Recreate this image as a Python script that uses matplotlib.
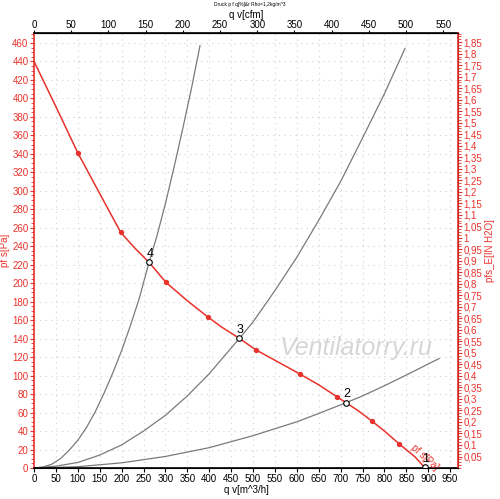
import matplotlib
matplotlib.use('Agg')
import matplotlib.pyplot as plt
import matplotlib.ticker as mticker

plt.rcParams['font.family'] = ['Liberation Sans', 'DejaVu Sans']

# fan curve pf s [Pa] over qv [m^3/h]
fan_q = [0, 50, 100, 150, 198, 230, 262.6, 301, 350, 398, 430, 469, 506,
         560, 607, 650, 692, 712.5, 740, 771, 800, 834, 870, 893]
fan_p = [440, 391, 341, 297, 255, 238, 222.6, 201, 181, 163, 152, 140.3, 128,
         114, 101.7, 90, 77, 70.7, 62, 51, 40, 26, 12, 0]

# measured points on the fan curve (small red dots)
dot_q = [100, 198, 301, 398, 506, 607, 692, 771, 834]
dot_p = [341, 255, 201, 163, 128, 101.7, 77, 51, 26]

# system curves (gray)
sys1_q = [0, 20, 40, 60, 80, 100, 120, 140, 160, 180, 200, 220, 240,
          262.6, 280, 300, 320, 340, 360, 379]
sys1_p = [0, 1, 4, 10, 19, 30, 44, 61, 81, 103, 127, 154, 183,
          222.6, 250, 286, 326, 368, 412, 457]
sys2_q = [0, 50, 100, 150, 200, 250, 300, 350, 400, 469, 500, 550, 600,
          650, 700, 750, 800, 847]
sys2_p = [0, 2, 6, 14, 25, 40, 57, 78, 102, 140.3, 158, 192, 228,
          268, 310, 357, 405, 454]
sys3_q = [0, 100, 200, 300, 400, 500, 600, 650, 712.5, 750, 800, 850, 925]
sys3_p = [0, 1.4, 5.6, 12.5, 22, 35, 50, 59, 70.7, 78, 89, 100.6, 118.5]

# operating points
op_labels = ['1', '2', '3', '4']
op_q = [893, 712.5, 469, 262.6]
op_p = [0.7, 70.7, 140.3, 222.6]

red = '#e8322b'
gray = '#7a7a7a'
PA_PER_INH2O = 249.09
M3H_PER_CFM = 1.699

fig = plt.figure(figsize=(5, 4.99), dpi=100)
ax = fig.add_axes([0.068, 0.0621, 0.848, 0.8712])

ax.set_xlim(0, 968)
ax.set_ylim(0, 470.4)

ax.plot(sys1_q, sys1_p, color=gray, lw=0.9)
ax.plot(sys2_q, sys2_p, color=gray, lw=0.9)
ax.plot(sys3_q, sys3_p, color=gray, lw=0.9)
ax.plot(fan_q, fan_p, color=red, lw=1.1, zorder=3)
ax.plot(dot_q, dot_p, 'o', color=red, ms=2.8, zorder=4)
ax.plot(op_q, op_p, 'o', mfc='white', mec='black', mew=0.8, ms=4, zorder=5)
for lab, q, p in zip(op_labels, op_q, op_p):
    ax.text(q + 2, p + 3, lab, fontsize=9, color='black', ha='center', va='bottom', zorder=6)

ax.text(893, 12, 'pf s[Pa]', color=red, fontsize=7, rotation=-42,
        ha='center', va='center')

# watermark
ax.text(735, 130, 'Ventilatorry.ru', fontsize=18, style='italic',
        color='#d6d6d6', ha='center', va='center', zorder=1)

ax.xaxis.set_major_locator(mticker.MultipleLocator(50))
ax.yaxis.set_major_locator(mticker.MultipleLocator(20))
ax.yaxis.set_minor_locator(mticker.MultipleLocator(5))
ax.grid(True, which='major', color='#d0d0d0', ls=(0, (1, 4)), lw=0.8)
ax.tick_params(axis='x', labelsize=7, length=3, pad=1)
ax.tick_params(axis='y', labelsize=7, length=3, pad=1, colors=red)
ax.tick_params(axis='y', which='minor', length=2, colors=red)
ax.spines['left'].set_color(red)
ax.spines['left'].set_linewidth(1.2)
ax.spines['bottom'].set_linewidth(1.2)
ax.set_xlabel('q v[m^3/h]', fontsize=7, labelpad=1)
ax.set_ylabel('pf s[Pa]', fontsize=7, color=red, labelpad=0)
ax.yaxis.set_label_coords(-0.056, 0.5)

# right axis in inch H2O
ax2 = ax.twinx()
ax2.set_ylim(0, 470.4 / PA_PER_INH2O)
ax2.yaxis.set_major_locator(mticker.FixedLocator([i * 0.05 for i in range(1, 38)]))
ax2.yaxis.set_minor_locator(mticker.MultipleLocator(0.0125))
ax2.yaxis.set_major_formatter(mticker.FuncFormatter(
    lambda v, pos: ('%.2f' % v).rstrip('0').rstrip('.').replace('.', ',')))
ax2.tick_params(axis='y', labelsize=7, length=3, pad=1, colors=red)
ax2.tick_params(axis='y', which='minor', length=2, colors=red)
ax2.spines['right'].set_color(red)
ax2.spines['right'].set_linewidth(1.2)
ax2.spines['left'].set_visible(False)
ax2.set_ylabel('pfs_E[IN H2O]', fontsize=7, color=red, labelpad=2)

# top axis in cfm
top = ax.secondary_xaxis('top', functions=(lambda q: q / M3H_PER_CFM,
                                           lambda c: c * M3H_PER_CFM))
top.xaxis.set_major_locator(mticker.MultipleLocator(50))
top.tick_params(labelsize=7, length=2.5, pad=0)
top.set_xlabel('q v[cfm]', fontsize=7, labelpad=1)
ax.spines['top'].set_linewidth(1.2)

fig.text(0.5, 0.99, 'Druck p f q[%]&r Rho=1,2kg/m^3', fontsize=3.5,
         ha='center', va='center')

fig.savefig('out.png', dpi=100)
